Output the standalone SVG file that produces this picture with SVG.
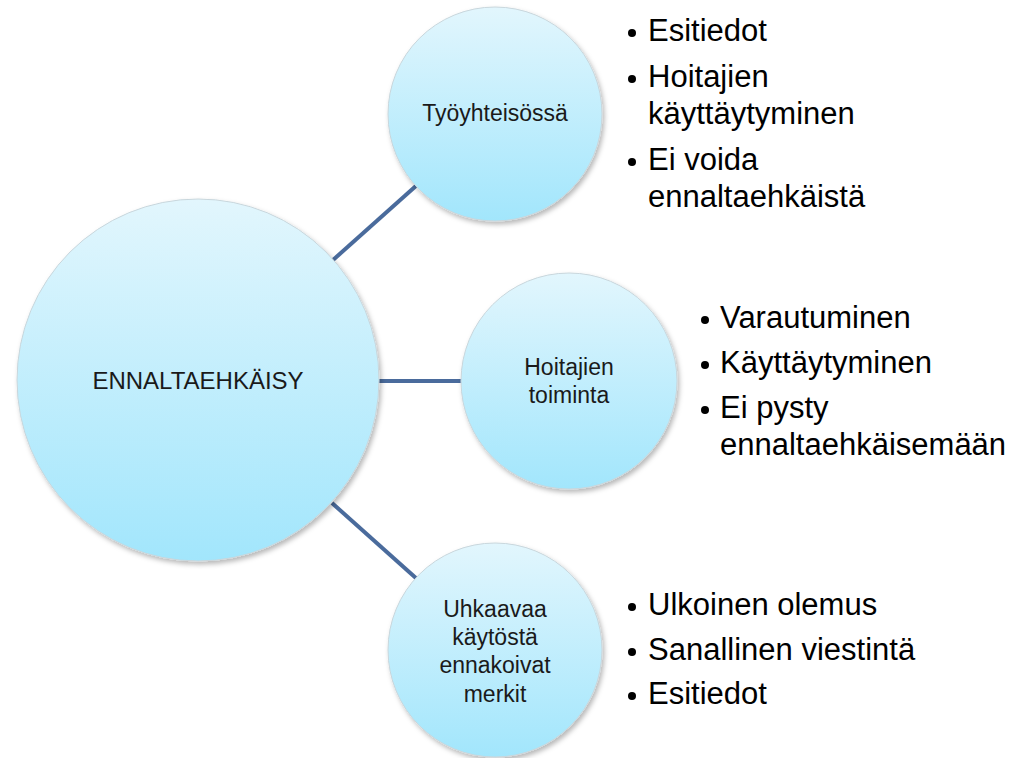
<svg xmlns="http://www.w3.org/2000/svg" width="1022" height="758" viewBox="0 0 1022 758">
  <defs>
    <linearGradient id="bubbleFill" x1="0" y1="0" x2="0" y2="1">
      <stop offset="0" stop-color="#e2f6fd"/>
      <stop offset="1" stop-color="#a2e6fc"/>
    </linearGradient>
    <filter id="soft" x="-10%" y="-10%" width="125%" height="125%">
      <feDropShadow dx="2" dy="3" stdDeviation="2.5" flood-color="#000" flood-opacity="0.28"/>
    </filter>
  </defs>
  <style>
    .bubble { fill: url(#bubbleFill); stroke: #c8d6dc; stroke-width: 1; filter: url(#soft); }
    .link { stroke: #4a6b9c; stroke-width: 4; fill: none; }
    .label { font-family: "Liberation Sans", Arial, sans-serif; fill: #1a1a1a; text-anchor: middle; font-size: 23px; }
    .hub { font-size: 24px; }
    .item { font-family: "Liberation Sans", Arial, sans-serif; fill: #000; font-size: 31px; }
    .dot { fill: #000; }
  </style>

  <g id="connectors">
    <line class="link" x1="333" y1="260" x2="417" y2="185"/>
    <line class="link" x1="378" y1="381" x2="462" y2="381"/>
    <line class="link" x1="332" y1="503" x2="417" y2="579"/>
  </g>

  <g id="hub">
    <circle class="bubble" cx="198" cy="380" r="181"/>
    <text class="label hub" x="198" y="389">ENNALTAEHKÄISY</text>
  </g>

  <g id="node-tyoyhteisossa">
    <circle class="bubble" cx="495" cy="114" r="107"/>
    <text class="label" x="495" y="121">Työyhteisössä</text>
  </g>

  <g id="node-hoitajien-toiminta">
    <circle class="bubble" cx="569" cy="381" r="108"/>
    <text class="label" x="569" y="375">Hoitajien</text>
    <text class="label" x="569" y="403">toiminta</text>
  </g>

  <g id="node-uhkaavaa">
    <circle class="bubble" cx="495" cy="650" r="107"/>
    <text class="label" x="495" y="617">Uhkaavaa</text>
    <text class="label" x="495" y="645">käytöstä</text>
    <text class="label" x="495" y="673">ennakoivat</text>
    <text class="label" x="495" y="702">merkit</text>
  </g>

  <g id="list-tyoyhteisossa">
    <circle class="dot" cx="632" cy="33" r="4"/>
    <text class="item" x="648" y="41">Esitiedot</text>
    <circle class="dot" cx="632" cy="79" r="4"/>
    <text class="item" x="648" y="87">Hoitajien</text>
    <text class="item" x="648" y="124">käyttäytyminen</text>
    <circle class="dot" cx="632" cy="162" r="4"/>
    <text class="item" x="648" y="170">Ei voida</text>
    <text class="item" x="648" y="207">ennaltaehkäistä</text>
  </g>

  <g id="list-hoitajien-toiminta">
    <circle class="dot" cx="705" cy="320" r="4"/>
    <text class="item" x="720" y="328">Varautuminen</text>
    <circle class="dot" cx="705" cy="365" r="4"/>
    <text class="item" x="720" y="373">Käyttäytyminen</text>
    <circle class="dot" cx="705" cy="410" r="4"/>
    <text class="item" x="720" y="418">Ei pysty</text>
    <text class="item" x="720" y="455">ennaltaehkäisemään</text>
  </g>

  <g id="list-uhkaavaa">
    <circle class="dot" cx="632" cy="607" r="4"/>
    <text class="item" x="648" y="615">Ulkoinen olemus</text>
    <circle class="dot" cx="632" cy="652" r="4"/>
    <text class="item" x="648" y="660">Sanallinen viestintä</text>
    <circle class="dot" cx="632" cy="696" r="4"/>
    <text class="item" x="648" y="704">Esitiedot</text>
  </g>
</svg>
